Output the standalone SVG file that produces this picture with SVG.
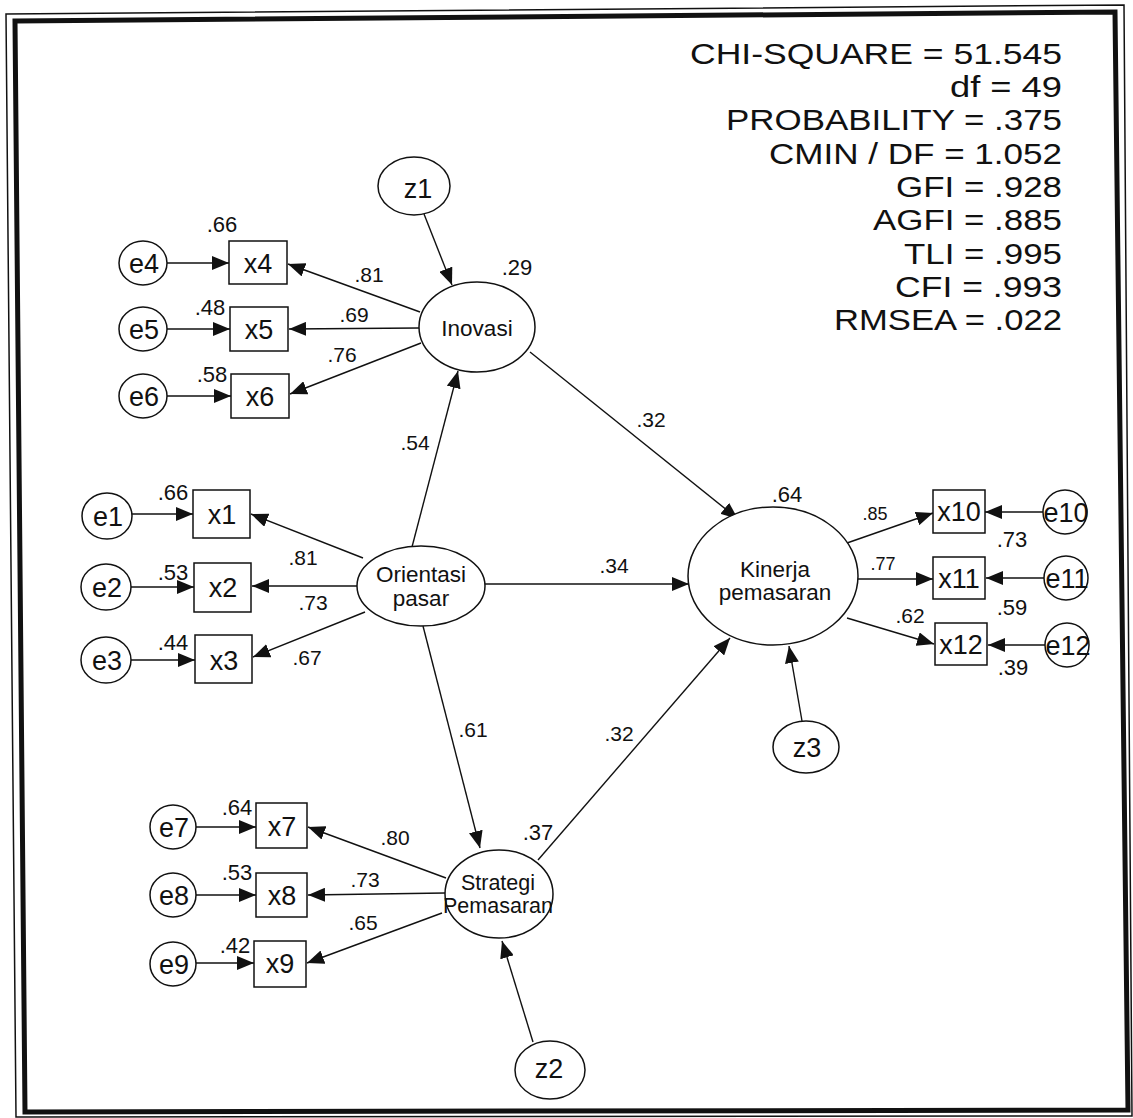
<svg xmlns="http://www.w3.org/2000/svg" width="1133" height="1118" viewBox="0 0 1133 1118">
<style>
.sh{fill:#fff;stroke:#111;stroke-width:1.5}
.t{font-family:"Liberation Sans",Arial,sans-serif;fill:#111;text-anchor:middle}
.n{font-size:27px}
.lat{font-size:22.5px}
.c{font-size:21px}
.r{font-size:22px}
.st{font-family:"Liberation Sans",Arial,sans-serif;fill:#111;text-anchor:end;font-size:29.5px}
.e{stroke:#111;stroke-width:1.4;fill:none;marker-end:url(#ah)}
</style>
<defs>
<marker id="ah" markerUnits="userSpaceOnUse" markerWidth="17" markerHeight="14" refX="17" refY="7" orient="auto"><path d="M0,0 L17,7 L0,14 z" fill="#111"/></marker>
</defs>
<rect width="1133" height="1118" fill="#fff"/>
<g id="frame" fill="none" stroke="#111">
<polygon points="6,14 1124,5 1132,1116 16,1117" stroke-width="1.5"/>
<polygon points="15,21 1115,12 1128,1110 25,1112" stroke-width="5"/>
</g>
<g id="connectors">
<line class="e" x1="424" y1="214" x2="452" y2="285"/>
<line class="e" x1="420" y1="312" x2="288" y2="264"/>
<line class="e" x1="419" y1="328" x2="289" y2="329"/>
<line class="e" x1="421" y1="343" x2="290" y2="394"/>
<line class="e" x1="167" y1="263" x2="229" y2="263"/>
<line class="e" x1="167" y1="329" x2="230" y2="329"/>
<line class="e" x1="167" y1="396" x2="231" y2="396"/>
<line class="e" x1="363" y1="558" x2="251" y2="514"/>
<line class="e" x1="357" y1="586" x2="252" y2="586"/>
<line class="e" x1="365" y1="612" x2="253" y2="657"/>
<line class="e" x1="132" y1="514" x2="193" y2="514"/>
<line class="e" x1="130" y1="587" x2="194" y2="587"/>
<line class="e" x1="131" y1="660" x2="195" y2="660"/>
<line class="e" x1="412" y1="547" x2="458" y2="371"/>
<line class="e" x1="485" y1="584" x2="689" y2="584"/>
<line class="e" x1="423" y1="626" x2="480" y2="848"/>
<line class="e" x1="530" y1="352" x2="738" y2="519"/>
<line class="e" x1="538" y1="860" x2="730" y2="638"/>
<line class="e" x1="802" y1="721" x2="789" y2="646"/>
<line class="e" x1="847" y1="543" x2="933" y2="513"/>
<line class="e" x1="858" y1="579" x2="933" y2="579"/>
<line class="e" x1="847" y1="618" x2="934" y2="644"/>
<line class="e" x1="1043" y1="512" x2="985" y2="512"/>
<line class="e" x1="1044" y1="578" x2="986" y2="578"/>
<line class="e" x1="1045" y1="645" x2="988" y2="645"/>
<line class="e" x1="446" y1="878" x2="308" y2="827"/>
<line class="e" x1="445" y1="893" x2="308" y2="895"/>
<line class="e" x1="442" y1="913" x2="307" y2="963"/>
<line class="e" x1="196" y1="827" x2="256" y2="827"/>
<line class="e" x1="196" y1="895" x2="256" y2="895"/>
<line class="e" x1="196" y1="963" x2="254" y2="963"/>
<line class="e" x1="533" y1="1042" x2="502" y2="941"/>
</g>
<g id="Inovasi"><ellipse class="sh" cx="477" cy="327" rx="58" ry="45"/><text class="t lat" x="477" y="336">Inovasi</text></g>
<g id="Orientasi"><ellipse class="sh" cx="421" cy="586" rx="64" ry="40"/><text class="t lat" x="421" y="582">Orientasi</text><text class="t lat" x="421" y="606">pasar</text></g>
<g id="Kinerja"><ellipse class="sh" cx="773" cy="576" rx="85" ry="69"/><text class="t lat" x="775" y="577">Kinerja</text><text class="t lat" x="775" y="600">pemasaran</text></g>
<g id="Strategi"><ellipse class="sh" cx="499" cy="894" rx="54" ry="44"/><text class="t" style="font-size:21.5px" x="498" y="890">Strategi</text><text class="t" style="font-size:21.5px" x="498" y="913">Pemasaran</text></g>
<g id="z1"><ellipse class="sh" cx="414" cy="186" rx="36" ry="29"/><text class="t n" x="418" y="198">z1</text></g>
<g id="z2"><ellipse class="sh" cx="550" cy="1070" rx="35" ry="29"/><text class="t n" x="549" y="1078">z2</text></g>
<g id="z3"><ellipse class="sh" cx="806" cy="747" rx="33" ry="26"/><text class="t n" x="807" y="757">z3</text></g>
<g id="x4"><rect class="sh" x="229" y="241" width="58" height="43"/><text class="t n" x="258" y="273">x4</text></g>
<g id="x5"><rect class="sh" x="230" y="307" width="58" height="44"/><text class="t n" x="259" y="339">x5</text></g>
<g id="x6"><rect class="sh" x="231" y="374" width="58" height="44"/><text class="t n" x="260" y="406">x6</text></g>
<g id="x1"><rect class="sh" x="193" y="490" width="57" height="48"/><text class="t n" x="222" y="524">x1</text></g>
<g id="x2"><rect class="sh" x="194" y="563" width="57" height="49"/><text class="t n" x="223" y="597">x2</text></g>
<g id="x3"><rect class="sh" x="195" y="635" width="57" height="48"/><text class="t n" x="224" y="670">x3</text></g>
<g id="x7"><rect class="sh" x="256" y="803" width="51" height="45"/><text class="t n" x="282" y="836">x7</text></g>
<g id="x8"><rect class="sh" x="256" y="873" width="51" height="44"/><text class="t n" x="282" y="905">x8</text></g>
<g id="x9"><rect class="sh" x="254" y="941" width="52" height="46"/><text class="t n" x="280" y="973">x9</text></g>
<g id="x10"><rect class="sh" x="933" y="490" width="52" height="43"/><text class="t n" x="959" y="521">x10</text></g>
<g id="x11"><rect class="sh" x="933" y="557" width="52" height="42"/><text class="t n" x="959" y="588">x11</text></g>
<g id="x12"><rect class="sh" x="935" y="623" width="52" height="42"/><text class="t n" x="961" y="654">x12</text></g>
<g id="e4"><ellipse class="sh" cx="143" cy="263" rx="24" ry="22"/><text class="t n" x="144" y="273">e4</text></g>
<g id="e5"><ellipse class="sh" cx="143" cy="329" rx="24" ry="22"/><text class="t n" x="144" y="339">e5</text></g>
<g id="e6"><ellipse class="sh" cx="143" cy="396" rx="24" ry="22"/><text class="t n" x="144" y="406">e6</text></g>
<g id="e1"><ellipse class="sh" cx="107" cy="516" rx="25" ry="23"/><text class="t n" x="108" y="526">e1</text></g>
<g id="e2"><ellipse class="sh" cx="106" cy="587" rx="25" ry="23"/><text class="t n" x="107" y="597">e2</text></g>
<g id="e3"><ellipse class="sh" cx="106" cy="660" rx="25" ry="23"/><text class="t n" x="107" y="670">e3</text></g>
<g id="e7"><ellipse class="sh" cx="173" cy="827" rx="23" ry="22"/><text class="t n" x="174" y="837">e7</text></g>
<g id="e8"><ellipse class="sh" cx="173" cy="895" rx="23" ry="22"/><text class="t n" x="174" y="905">e8</text></g>
<g id="e9"><ellipse class="sh" cx="173" cy="964" rx="23" ry="22"/><text class="t n" x="174" y="974">e9</text></g>
<g id="e10"><ellipse class="sh" cx="1065" cy="512" rx="22" ry="22"/><text class="t n" x="1066" y="522">e10</text></g>
<g id="e11"><ellipse class="sh" cx="1066" cy="578" rx="22" ry="22"/><text class="t n" x="1067" y="588">e11</text></g>
<g id="e12"><ellipse class="sh" cx="1067" cy="645" rx="22" ry="22"/><text class="t n" x="1068" y="655">e12</text></g>
<g id="labels">
<text class="t r" x="222" y="232">.66</text>
<text class="t r" x="210" y="315">.48</text>
<text class="t r" x="212" y="382">.58</text>
<text class="t c" x="369" y="282">.81</text>
<text class="t c" x="354" y="322">.69</text>
<text class="t c" x="342" y="362">.76</text>
<text class="t r" x="517" y="275">.29</text>
<text class="t r" x="173" y="500">.66</text>
<text class="t r" x="173" y="580">.53</text>
<text class="t r" x="173" y="650">.44</text>
<text class="t c" x="303" y="565">.81</text>
<text class="t c" x="313" y="610">.73</text>
<text class="t c" x="307" y="665">.67</text>
<text class="t c" x="415" y="450">.54</text>
<text class="t c" x="614" y="573">.34</text>
<text class="t c" x="473" y="737">.61</text>
<text class="t c" x="651" y="427">.32</text>
<text class="t c" x="619" y="741">.32</text>
<text class="t r" x="538" y="840">.37</text>
<text class="t r" x="787" y="502">.64</text>
<text class="t c" x="875" y="520" style="font-size:18px">.85</text>
<text class="t c" x="883" y="570" style="font-size:18px">.77</text>
<text class="t c" x="910" y="623">.62</text>
<text class="t r" x="1012" y="547">.73</text>
<text class="t r" x="1012" y="615">.59</text>
<text class="t r" x="1013" y="675">.39</text>
<text class="t r" x="237" y="815">.64</text>
<text class="t r" x="237" y="880">.53</text>
<text class="t r" x="235" y="953">.42</text>
<text class="t c" x="395" y="845">.80</text>
<text class="t c" x="365" y="887">.73</text>
<text class="t c" x="363" y="930">.65</text>
</g>
<g id="fit">
<text class="st" x="1062" y="64" textLength="372" lengthAdjust="spacingAndGlyphs">CHI-SQUARE = 51.545</text>
<text class="st" x="1062" y="97" textLength="112" lengthAdjust="spacingAndGlyphs">df = 49</text>
<text class="st" x="1062" y="130" textLength="336" lengthAdjust="spacingAndGlyphs">PROBABILITY = .375</text>
<text class="st" x="1062" y="164" textLength="293" lengthAdjust="spacingAndGlyphs">CMIN / DF = 1.052</text>
<text class="st" x="1062" y="197" textLength="166" lengthAdjust="spacingAndGlyphs">GFI = .928</text>
<text class="st" x="1062" y="230" textLength="189" lengthAdjust="spacingAndGlyphs">AGFI = .885</text>
<text class="st" x="1062" y="264" textLength="158" lengthAdjust="spacingAndGlyphs">TLI = .995</text>
<text class="st" x="1062" y="297" textLength="167" lengthAdjust="spacingAndGlyphs">CFI = .993</text>
<text class="st" x="1062" y="330" textLength="228" lengthAdjust="spacingAndGlyphs">RMSEA = .022</text>
</g>
</svg>
